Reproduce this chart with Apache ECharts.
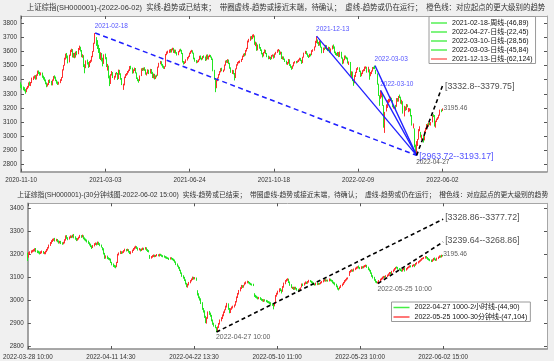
<!DOCTYPE html>
<html><head><meta charset="utf-8">
<script src="https://cdn.jsdelivr.net/npm/echarts@6/dist/echarts.min.js"></script>
<style>html,body{margin:0;padding:0;background:#f0f0f0}#c{width:554px;height:361px}</style>
</head><body><div id="c"></div>
<script>
// ---------- data ----------
const dailyTickIdx=[0,75,150,225,300,375];
const dailyTickLabels=['2020-11-10','2021-03-03','2021-06-24','2021-10-18','2022-02-09','2022-06-02'];
const m30TickIdx=[0,70,140,210,280,350];
const m30TickLabels=['2022-03-28 10:00','2022-04-11 14:30','2022-04-22 13:30','2022-05-10 11:00','2022-05-23 10:00','2022-06-02 15:00'];
const dailyYTicks=[2800,2900,3000,3100,3200,3300,3400,3500,3600,3700,3800];
const m30YTicks=[2800,2900,3000,3100,3200,3300,3400];
const dailyTitle='上证综指(SH000001)-(2022-06-02)  实线-趋势或已结束；  带圈虚线-趋势或接近末端，待确认；  虚线-趋势或仍在运行；  橙色线：对应起点的更大级别的趋势';
const m30Title='上证综指(SH000001)-(30分钟线图-2022-06-02 15:00)  实线-趋势或已结束；  带圈虚线-趋势或接近末端，待确认；  虚线-趋势或仍在运行；  橙色线：对应起点的更大级别的趋势';
// daily candles: [open, close, low, high]
const dailyOHLC=[
[3373,3360,3342,3382],[3358,3342,3330,3366],[3345,3338,3325,3352],[3340,3326,3318,3347],[3328,3316,3301,3333],[3318,3340,3312,3344],[3342,3347,3333,3356],[3349,3377,3344,3381],[3380,3363,3357,3388],[3362,3378,3355,3384],
[3381,3410,3376,3415],[3412,3414,3398,3424],[3418,3422,3408,3431],[3425,3408,3400,3433],[3406,3432,3402,3438],[3436,3457,3428,3465],[3460,3449,3441,3466],[3447,3442,3429,3456],[3440,3444,3431,3452],[3446,3420,3414,3451],
[3422,3410,3401,3429],[3412,3396,3389,3418],[3398,3375,3368,3402],[3376,3362,3347,3381],[3360,3367,3352,3374],[3369,3394,3363,3399],[3396,3386,3377,3403],[3388,3366,3360,3392],[3364,3397,3360,3402],[3399,3421,3393,3426],
[3424,3417,3408,3431],[3418,3396,3390,3422],[3394,3382,3372,3400],[3380,3374,3363,3388],[3372,3379,3365,3386],[3381,3397,3376,3404],[3399,3414,3392,3419],[3416,3473,3413,3474],[3474,3502,3466,3505],[3504,3552,3500,3556],
[3555,3576,3543,3585],[3578,3570,3552,3590],[3566,3531,3516,3572],[3530,3575,3523,3578],[3577,3608,3570,3612],[3610,3611,3596,3620],[3612,3566,3558,3617],[3564,3583,3556,3590],[3585,3563,3552,3591],[3561,3596,3557,3600],
[3598,3584,3574,3604],[3586,3621,3581,3625],[3623,3627,3610,3642],[3628,3610,3600,3634],[3606,3569,3560,3611],[3571,3573,3556,3581],[3570,3505,3490,3574],[3503,3481,3446,3510],[3486,3533,3482,3537],[3535,3517,3508,3543],
[3519,3496,3484,3525],[3498,3528,3490,3532],[3530,3532,3518,3541],[3534,3564,3528,3569],[3566,3600,3560,3604],[3603,3656,3598,3662],[3665,3696,3655,3731],[3690,3675,3640,3702],[3670,3642,3618,3681],[3640,3622,3590,3648],
[3618,3565,3548,3625],[3560,3586,3540,3595],[3583,3552,3530,3590],[3548,3509,3495,3556],[3515,3576,3512,3580],[3578,3563,3545,3585],[3555,3503,3490,3560],[3498,3501,3465,3512],[3495,3422,3410,3500],[3420,3362,3355,3430],
[3375,3437,3370,3440],[3440,3453,3430,3462],[3450,3420,3412,3455],[3418,3419,3400,3428],[3422,3445,3415,3449],[3447,3446,3437,3455],[3443,3404,3398,3448],[3408,3469,3405,3472],[3466,3443,3435,3470],[3440,3411,3400,3446],
[3408,3367,3362,3412],[3360,3362,3328,3372],[3366,3419,3360,3422],[3421,3435,3412,3440],[3437,3441,3428,3448],[3443,3457,3436,3462],[3459,3467,3450,3472],[3469,3492,3462,3497],[3494,3483,3474,3499],[3480,3450,3443,3486],
[3452,3469,3446,3474],[3471,3482,3462,3486],[3479,3451,3445,3483],[3448,3412,3405,3452],[3410,3398,3390,3416],[3396,3396,3379,3404],[3398,3426,3391,3430],[3430,3478,3426,3481],[3476,3473,3462,3484],[3474,3481,3465,3486],
[3483,3472,3463,3489],[3470,3441,3436,3474],[3440,3447,3430,3452],[3449,3469,3443,3474],[3467,3446,3440,3471],[3448,3474,3444,3477],[3472,3447,3441,3476],[3450,3418,3412,3456],[3416,3441,3410,3444],[3438,3410,3402,3442],
[3412,3427,3405,3431],[3430,3429,3417,3436],[3432,3490,3428,3493],[3492,3517,3486,3520],[3519,3528,3510,3533],[3526,3507,3500,3531],[3505,3497,3486,3512],[3494,3486,3478,3500],[3488,3492,3476,3496],[3495,3581,3492,3583],
[3583,3593,3574,3600],[3595,3597,3585,3606],[3599,3611,3590,3614],[3613,3600,3592,3618],[3598,3615,3593,3620],[3617,3624,3608,3627],[3622,3597,3590,3626],[3595,3611,3588,3614],[3609,3592,3585,3613],[3590,3581,3572,3596],
[3579,3599,3574,3603],[3601,3611,3595,3615],[3613,3610,3601,3620],[3608,3589,3582,3612],[3586,3528,3522,3590],[3525,3518,3508,3533],[3520,3525,3512,3530],[3527,3540,3519,3545],[3542,3557,3536,3561],[3559,3566,3550,3570],
[3568,3587,3562,3592],[3589,3600,3583,3605],[3602,3607,3594,3612],[3605,3591,3585,3609],[3589,3552,3545,3592],[3550,3534,3528,3556],[3532,3528,3517,3540],[3526,3530,3520,3536],[3532,3541,3525,3545],[3543,3566,3538,3570],
[3568,3552,3545,3572],[3550,3547,3538,3556],[3549,3565,3544,3568],[3567,3563,3555,3573],[3561,3539,3533,3565],[3541,3574,3537,3578],[3576,3550,3545,3580],[3548,3567,3543,3570],[3569,3573,3561,3578],[3571,3563,3557,3576],
[3560,3550,3540,3564],[3548,3467,3460,3550],[3465,3411,3400,3470],[3405,3362,3312,3410],[3355,3397,3340,3401],[3400,3412,3390,3416],[3414,3437,3409,3440],[3439,3457,3432,3461],[3459,3478,3452,3482],[3480,3466,3460,3485],
[3464,3467,3454,3472],[3469,3504,3465,3508],[3506,3532,3500,3536],[3534,3528,3520,3540],[3526,3540,3518,3546],[3538,3518,3511,3543],[3516,3485,3478,3520],[3483,3457,3449,3488],[3455,3465,3441,3470],[3463,3446,3438,3468],
[3444,3410,3395,3448],[3415,3477,3412,3480],[3480,3507,3474,3510],[3509,3522,3500,3526],[3524,3528,3515,3533],[3526,3531,3518,3537],[3533,3544,3526,3548],[3546,3567,3540,3571],[3569,3581,3561,3585],[3583,3575,3566,3589],
[3577,3607,3572,3611],[3609,3621,3600,3626],[3623,3675,3618,3678],[3677,3682,3665,3690],[3684,3703,3676,3708],[3701,3693,3685,3710],[3695,3715,3688,3720],[3712,3717,3700,3723],[3710,3656,3648,3714],[3654,3662,3638,3670],
[3660,3614,3605,3664],[3612,3646,3608,3650],[3648,3628,3620,3655],[3626,3613,3604,3632],[3610,3587,3580,3615],[3585,3568,3558,3590],[3570,3592,3565,3596],[3594,3611,3588,3615],[3609,3589,3582,3612],[3586,3568,3560,3590],
[3566,3552,3545,3571],[3554,3561,3547,3566],[3559,3548,3540,3563],[3550,3572,3546,3575],[3574,3575,3564,3580],[3573,3558,3550,3578],[3560,3584,3556,3587],[3586,3594,3578,3598],[3596,3609,3590,3613],[3611,3611,3600,3618],
[3608,3582,3576,3612],[3584,3597,3579,3600],[3595,3552,3547,3598],[3550,3562,3544,3566],[3560,3547,3540,3565],[3545,3533,3526,3550],[3531,3516,3508,3535],[3518,3518,3505,3526],[3520,3544,3514,3547],[3542,3505,3498,3545],
[3503,3492,3485,3510],[3490,3481,3470,3496],[3483,3498,3477,3502],[3500,3521,3495,3525],[3523,3528,3515,3532],[3526,3526,3516,3533],[3528,3532,3520,3537],[3534,3541,3526,3545],[3543,3552,3536,3556],[3550,3539,3532,3555],
[3537,3520,3512,3541],[3522,3560,3518,3563],[3562,3589,3557,3592],[3591,3600,3583,3605],[3598,3585,3578,3603],[3583,3571,3563,3587],[3569,3563,3554,3574],[3565,3580,3560,3584],[3578,3576,3566,3585],[3578,3607,3574,3610],
[3609,3611,3598,3616],[3613,3632,3606,3636],[3634,3673,3630,3676],[3680,3681,3660,3708],[3679,3662,3655,3686],[3660,3647,3640,3668],[3648,3675,3642,3678],[3673,3632,3628,3677],[3630,3593,3588,3634],[3595,3625,3590,3628],
[3623,3622,3610,3630],[3624,3643,3618,3647],[3641,3618,3612,3645],[3616,3615,3603,3622],[3617,3630,3610,3634],[3628,3597,3592,3632],[3599,3619,3595,3622],[3621,3640,3615,3643],[3642,3632,3620,3650],[3630,3595,3588,3636],
[3593,3586,3575,3600],[3584,3580,3570,3590],[3578,3593,3568,3597],[3591,3567,3560,3596],[3565,3597,3562,3600],[3595,3555,3550,3598],[3553,3521,3510,3558],[3523,3541,3515,3545],[3543,3569,3538,3572],[3567,3558,3550,3572],
[3556,3555,3544,3563],[3553,3522,3515,3557],[3520,3524,3505,3530],[3522,3433,3428,3526],[3430,3455,3420,3460],[3453,3394,3390,3458],[3392,3361,3357,3400],[3380,3430,3375,3433],[3432,3453,3420,3456],[3455,3479,3448,3482],
[3481,3485,3470,3490],[3483,3462,3455,3488],[3460,3429,3420,3465],[3431,3446,3425,3450],[3448,3465,3440,3468],[3467,3468,3458,3475],[3466,3490,3462,3493],[3488,3490,3478,3495],[3488,3457,3450,3492],[3459,3489,3452,3492],
[3470,3429,3400,3474],[3431,3451,3425,3455],[3453,3462,3440,3466],[3464,3488,3458,3490],[3486,3484,3475,3492],[3495,3481,3475,3500],[3468,3447,3440,3470],[3440,3372,3365,3445],[3368,3293,3285,3372],[3285,3256,3215,3290],
[3290,3296,3265,3325],[3295,3309,3275,3315],[3290,3223,3215,3300],[3215,3064,3060,3220],[3070,3170,3023,3172],[3180,3215,3175,3225],[3210,3251,3200,3255],[3252,3253,3235,3265],[3250,3259,3240,3265],[3255,3271,3250,3280],
[3265,3250,3244,3272],[3252,3212,3205,3256],[3200,3214,3195,3218],[3212,3203,3190,3222],[3210,3266,3208,3270],[3262,3252,3244,3270],[3250,3282,3245,3285],[3285,3283,3270,3295],[3278,3236,3230,3280],[3230,3252,3225,3258],
[3245,3167,3160,3248],[3160,3213,3140,3215],[3205,3186,3180,3210],[3190,3225,3185,3228],[3220,3211,3205,3225],[3190,3195,3170,3200],[3190,3194,3175,3198],[3190,3151,3140,3195],[3145,3080,3075,3150],[3070,3087,3055,3090],
[3050,2929,2920,3055],[2920,2886,2880,2940],[2870,2958,2863.65,2965],[2945,2975,2930,2980],[2980,3047,2975,3050],[3060,3068,3035,3070],[3025,3001,2990,3030],[2990,3004,2975,3010],[3000,2978,2955,3005],[2975,3035,2970,3038],
[3040,3054,3030,3060],[3050,3084,3045,3086],[3088,3073,3065,3090],[3075,3093,3068,3096],[3090,3085,3078,3095],[3080,3096,3075,3100],[3100,3146,3098,3148],[3150,3146,3135,3155],[3145,3070,3068,3150],[3070,3107,3060,3110],
[3105,3123,3100,3125],[3125,3130,3115,3135],[3128,3149,3125,3152],[3150,3186,3145,3188],[3184,3182,3170,3190],[3182,3195.46,3178,3197]
];
// 30-minute candles: [open, close, low, high]
const m30OHLC=[
[3205,3190,3172,3208],[3190,3207,3186,3210],[3206,3210,3201,3214],[3211,3214,3205,3218],[3213,3216,3209,3220],[3217,3218,3212,3223],[3217,3221,3213,3227],[3224,3215,3210,3228],[3214,3212,3206,3218],[3213,3210,3204,3216],
[3210,3206,3200,3213],[3205,3210,3202,3214],[3211,3212,3205,3217],[3212,3207,3203,3215],[3206,3207,3201,3211],[3205,3212,3201,3216],[3213,3220,3210,3224],[3220,3228,3217,3232],[3229,3240,3226,3243],[3240,3250,3237,3254],
[3251,3258,3246,3262],[3258,3264,3254,3268],[3265,3266,3259,3270],[3270,3262,3256,3272],[3262,3264,3257,3268],[3265,3258,3253,3267],[3258,3253,3247,3261],[3252,3256,3248,3259],[3256,3250,3245,3259],[3250,3248,3242,3253],
[3247,3252,3244,3255],[3250,3262,3248,3266],[3263,3279,3260,3283],[3279,3272,3268,3284],[3271,3268,3262,3275],[3268,3275,3265,3278],[3275,3279,3271,3283],[3279,3276,3271,3282],[3276,3282,3273,3286],[3285,3276,3270,3289],
[3276,3270,3264,3279],[3270,3264,3258,3272],[3264,3268,3260,3271],[3268,3273,3265,3277],[3273,3281,3271,3285],[3281,3277,3272,3284],[3277,3283,3274,3286],[3280,3271,3266,3283],[3271,3266,3261,3274],[3266,3262,3257,3269],
[3262,3257,3252,3265],[3257,3250,3246,3260],[3250,3244,3239,3253],[3244,3236,3232,3247],[3236,3228,3224,3239],[3232,3238,3228,3241],[3238,3245,3235,3249],[3245,3248,3241,3252],[3248,3244,3239,3251],[3244,3252,3242,3256],
[3252,3246,3241,3255],[3246,3240,3236,3249],[3240,3235,3230,3243],[3228,3225,3218,3232],[3225,3205,3200,3227],[3205,3186,3181,3207],[3186,3192,3182,3196],[3192,3185,3180,3195],[3185,3182,3177,3188],[3182,3179,3174,3185],
[3179,3167,3163,3182],[3165,3158,3153,3168],[3158,3152,3146,3161],[3152,3150,3143,3155],[3150,3147,3140,3153],[3147,3165,3145,3168],[3165,3200,3163,3203],[3200,3205,3196,3209],[3205,3213,3202,3216],[3210,3208,3202,3214],
[3208,3210,3204,3214],[3210,3216,3207,3219],[3216,3221,3213,3225],[3221,3218,3213,3224],[3218,3221,3215,3225],[3221,3212,3208,3223],[3212,3207,3202,3215],[3205,3210,3201,3214],[3210,3218,3207,3221],[3218,3224,3215,3228],
[3224,3230,3221,3234],[3230,3233,3226,3238],[3233,3228,3224,3236],[3228,3221,3217,3231],[3221,3225,3218,3228],[3222,3218,3213,3225],[3218,3222,3215,3226],[3222,3226,3219,3230],[3226,3224,3219,3229],[3224,3228,3221,3232],
[3228,3220,3216,3231],[3220,3216,3211,3223],[3216,3214,3209,3219],[3195,3186,3181,3198],[3186,3190,3182,3193],[3190,3193,3186,3197],[3193,3196,3189,3200],[3196,3192,3188,3199],[3192,3195,3189,3198],[3195,3198,3192,3202],
[3198,3196,3192,3201],[3194,3200,3191,3203],[3200,3198,3194,3203],[3198,3194,3190,3200],[3194,3193,3188,3197],[3193,3190,3186,3196],[3190,3188,3183,3193],[3188,3185,3181,3191],[3185,3184,3180,3188],[3183,3181,3176,3186],
[3181,3185,3178,3188],[3185,3182,3178,3188],[3182,3179,3175,3185],[3179,3176,3171,3182],[3176,3168,3164,3178],[3168,3158,3154,3170],[3158,3151,3147,3161],[3148,3143,3138,3152],[3143,3132,3128,3146],[3132,3120,3116,3134],
[3120,3107,3103,3122],[3107,3100,3095,3110],[3100,3090,3085,3103],[3090,3075,3070,3092],[3075,3064,3058,3077],[3062,3070,3056,3073],[3070,3078,3066,3081],[3078,3086,3075,3089],[3086,3092,3083,3096],[3092,3100,3089,3104],
[3100,3095,3091,3103],[3095,3098,3092,3102],[3098,3090,3086,3100],[3040,3029,3022,3045],[3029,3015,3010,3032],[3015,3007,3000,3018],[3007,2990,2985,3010],[2990,2965,2960,2993],[2965,2955,2948,2968],[2955,2930,2925,2958],
[2930,2907,2902,2934],[2905,2925,2900,2928],[2925,2950,2921,2953],[2950,2945,2938,2955],[2945,2935,2930,2948],[2935,2915,2910,2938],[2915,2900,2895,2918],[2900,2892,2887,2904],[2892,2886,2880,2895],[2880,2870,2863.65,2885],
[2870,2885,2866,2888],[2885,2900,2881,2903],[2900,2915,2896,2918],[2915,2925,2910,2928],[2925,2936,2920,2940],[2936,2950,2932,2953],[2950,2958,2946,2962],[2962,2975,2958,2978],[2975,2986,2970,2990],[2986,2965,2960,2988],
[2965,2950,2945,2968],[2950,2964,2946,2967],[2964,2970,2960,2974],[2970,2975,2966,2978],[2975,2979,2970,2983],[2982,2995,2978,2998],[2995,3015,2992,3018],[3015,3030,3011,3033],[3030,3043,3026,3046],[3043,3055,3040,3058],
[3055,3064,3050,3068],[3064,3060,3055,3067],[3060,3064,3056,3068],[3070,3075,3066,3079],[3075,3079,3071,3083],[3079,3082,3075,3086],[3082,3078,3074,3085],[3078,3074,3070,3081],[3074,3071,3067,3077],[3071,3070,3065,3074],
[3070,3068,3063,3073],[3028,3021,3016,3032],[3021,3018,3012,3025],[3018,3014,3009,3021],[3014,3010,3005,3017],[3010,3012,3006,3016],[3012,3007,3003,3015],[3007,3004,2999,3010],[3004,3001,2996,3007],[2998,3003,2994,3006],
[3003,3000,2996,3006],[3000,2998,2993,3003],[2998,2995,2990,3001],[2995,2993,2988,2998],[2993,2990,2985,2996],[2990,2985,2980,2993],[2985,2982,2977,2988],[2980,2979,2962,2984],[2979,2990,2975,2993],[2990,3021,2987,3024],
[3021,3030,3017,3034],[3030,3040,3026,3043],[3040,3050,3036,3053],[3050,3045,3041,3054],[3045,3035,3031,3048],[3042,3060,3038,3063],[3060,3075,3056,3078],[3075,3086,3071,3089],[3086,3090,3082,3094],[3090,3093,3086,3097],
[3093,3080,3076,3095],[3080,3068,3064,3083],[3068,3058,3054,3071],[3055,3057,3050,3060],[3057,3050,3046,3060],[3050,3057,3047,3060],[3057,3052,3048,3060],[3052,3048,3043,3055],[3048,3043,3038,3051],[3043,3050,3040,3053],
[3050,3054,3046,3057],[3060,3071,3057,3074],[3071,3068,3063,3074],[3068,3075,3065,3078],[3075,3079,3071,3083],[3079,3076,3072,3082],[3076,3082,3073,3085],[3082,3086,3078,3090],[3086,3084,3080,3089],[3082,3080,3075,3086],
[3080,3076,3072,3083],[3076,3071,3067,3079],[3071,3070,3065,3074],[3070,3075,3066,3078],[3075,3071,3067,3078],[3071,3074,3068,3077],[3074,3073,3069,3077],[3075,3078,3071,3081],[3078,3082,3075,3085],[3082,3086,3079,3089],
[3086,3090,3083,3094],[3090,3086,3082,3093],[3086,3088,3083,3091],[3088,3086,3082,3091],[3086,3093,3083,3096],[3092,3088,3084,3095],[3088,3086,3082,3091],[3086,3079,3075,3089],[3079,3076,3071,3082],[3076,3070,3066,3079],
[3070,3062,3058,3073],[3062,3052,3048,3065],[3052,3050,3044,3055],[3053,3058,3049,3061],[3058,3065,3055,3068],[3065,3071,3062,3074],[3071,3078,3068,3081],[3078,3086,3075,3089],[3086,3090,3082,3093],[3090,3096,3087,3099],
[3096,3098,3092,3101],[3110,3125,3107,3128],[3125,3129,3121,3133],[3129,3132,3125,3136],[3132,3129,3125,3135],[3129,3136,3126,3139],[3136,3140,3132,3143],[3140,3143,3136,3147],[3143,3146,3139,3149],[3148,3143,3139,3152],
[3143,3140,3136,3146],[3140,3146,3137,3149],[3146,3143,3139,3149],[3143,3148,3140,3151],[3148,3150,3144,3154],[3150,3152,3146,3156],[3152,3146,3142,3155],[3144,3136,3132,3147],[3136,3130,3126,3139],[3130,3120,3116,3133],
[3120,3107,3103,3122],[3107,3100,3096,3110],[3100,3090,3086,3103],[3090,3082,3078,3093],[3082,3079,3075,3085],[3076,3078,3074,3082],[3078,3086,3075,3089],[3086,3092,3083,3095],[3092,3096,3088,3099],[3096,3100,3092,3104],
[3100,3104,3096,3107],[3104,3102,3098,3107],[3102,3107,3099,3110],[3106,3110,3102,3113],[3110,3115,3106,3118],[3115,3121,3112,3124],[3121,3118,3114,3124],[3118,3126,3115,3129],[3126,3132,3123,3135],[3132,3138,3129,3141],
[3138,3143,3135,3146],[3145,3143,3139,3148],[3143,3138,3134,3146],[3138,3136,3132,3141],[3136,3132,3128,3139],[3132,3129,3125,3135],[3129,3135,3126,3138],[3135,3140,3132,3143],[3140,3130,3126,3142],[3133,3138,3130,3141],
[3138,3143,3135,3146],[3143,3146,3140,3149],[3146,3150,3143,3153],[3150,3148,3144,3153],[3148,3152,3145,3155],[3152,3155,3149,3158],[3155,3149,3145,3158],[3155,3160,3151,3163],[3160,3164,3157,3167],[3164,3168,3161,3171],
[3168,3172,3165,3175],[3172,3176,3169,3179],[3176,3181,3173,3184],[3181,3183,3178,3186],[3183,3186,3180,3189],[3186,3190,3182,3193],[3190,3186,3182,3193],[3186,3181,3177,3189],[3181,3178,3174,3184],[3178,3175,3171,3181],
[3175,3171,3167,3178],[3171,3176,3168,3179],[3176,3182,3173,3185],[3184,3179,3175,3187],[3179,3176,3172,3182],[3176,3183,3173,3186],[3183,3188,3180,3191],[3188,3193,3185,3196],[3193,3190,3186,3196],[3190,3196,3187,3199],
[3196,3195.46,3191,3198]
];
const dailyLegendNames=['2021-02-18-周线-(46,89)','2022-04-27-日线-(22,45)','2022-03-10-日线-(28,56)','2022-03-03-日线-(45,84)','2021-12-13-日线-(62,124)'];
const m30LegendNames=['2022-04-27 1000-2小时线-(44,90)','2022-05-25 1000-30分钟线-(47,104)'];
// trend lines [[startIndex,startValue],[endIndex,endValue]]
const dailyTrendDashedBlue=[[66,3731.69],[352,2863.65]];
const dailyTrendSolid=[[[263,3708.94],[352,2863.65]],[[315,3500],[352,2863.65]],[[320,3325],[352,2863.65]]];
const dailyTrendUp=[[352,2863.65],[375,3356.28]];
const m30TrendUp=[[[159,2863.65],[350,3353.29]],[[295,3074],[350,3254.25]]];
// annotations [text, index, value]
const dailyNotesBlue=[['2021-02-18',66,3731.69],['2021-12-13',263,3708.94],['2022-03-03',315,3500],['2022-03-10',320,3325]];
const dailyRange=['[2963.72--3193.17]',352,2863.65];
const dailyLowDate=['2022-04-27',352,2863.65];
const dailyTarget=['[3332.8--3379.75]',375,3356.28];
const dailyLast=['3195.46',375,3195.46];
const m30Dates=[['2022-04-27 10:00',159,2863.65],['2022-05-25 10:00',295,3074]];
const m30Targets=[['[3328.86--3377.72]',350,3353.29],['[3239.64--3268.86]',350,3254.25]];
const m30Last=['3195.46',350,3195.46];

// ---------- rendering ----------
const FONT='"Liberation Sans", Arial, "Noto Sans CJK SC", sans-serif';
const UP='#ff2f2f', DOWN='#22e622';
const chart=echarts.init(document.getElementById('c'),null,{renderer:'canvas'});

function xPair(grid,max,ticks,labels){
  return [
    {gridIndex:grid,type:'value',min:0,max:max,position:'bottom',
     axisLine:{show:true,onZero:false,lineStyle:{color:'#8c8c8c',width:1.6}},
     axisTick:{show:true,inside:true,length:3,customValues:ticks,lineStyle:{color:'#555'}},
     axisLabel:{show:true,customValues:ticks,margin:5,fontSize:6.3,color:'#333',fontFamily:FONT,
       formatter:v=>{const k=ticks.indexOf(v);return k>=0?labels[k]:'';}},
     splitLine:{show:false}},
    {gridIndex:grid,type:'value',min:0,max:max,position:'top',
     axisLine:{show:true,onZero:false,lineStyle:{color:'#a6a6a6',width:1}},
     axisTick:{show:true,inside:true,length:3,customValues:ticks,lineStyle:{color:'#555'}},
     axisLabel:{show:false},splitLine:{show:false}}
  ];
}
function yPair(grid,min,max,ticks){
  return [
    {gridIndex:grid,type:'value',min:min,max:max,position:'left',
     axisLine:{show:true,onZero:false,lineStyle:{color:'#8c8c8c',width:1.6}},
     axisTick:{show:true,inside:true,length:3,customValues:ticks,lineStyle:{color:'#555'}},
     axisLabel:{show:true,customValues:ticks,margin:4,fontSize:6.3,color:'#333',fontFamily:FONT,formatter:v=>String(v)},
     splitLine:{show:false}},
    {gridIndex:grid,type:'value',min:min,max:max,position:'right',
     axisLine:{show:true,onZero:false,lineStyle:{color:'#a6a6a6',width:1}},
     axisTick:{show:true,inside:true,length:3,customValues:ticks,lineStyle:{color:'#555'}},
     axisLabel:{show:false},splitLine:{show:false}}
  ];
}
function candles(data,xi,yi){
  return {type:'candlestick',xAxisIndex:xi,yAxisIndex:yi,silent:true,
    data:data.map((r,i)=>[i,r[0],r[1],r[2],r[3]]),
    itemStyle:{color:UP,color0:DOWN,borderColor:UP,borderColor0:DOWN,borderWidth:1}};
}
function seg(pts,xi,yi,color,width,type){
  return {type:'line',xAxisIndex:xi,yAxisIndex:yi,data:pts,showSymbol:false,symbol:'none',silent:true,z:5,
    lineStyle:{color:color,width:width,type:type}};
}
function notes(items,xi,yi,color,size,dx,dy){
  return {type:'scatter',xAxisIndex:xi,yAxisIndex:yi,symbolSize:1,silent:true,z:6,
    itemStyle:{color:'rgba(0,0,0,0)'},
    data:items.map(n=>({value:[n[1],n[2]],label:{show:true,position:[dx,dy],align:'left',verticalAlign:'middle',
      color:color,fontSize:size,fontFamily:FONT,formatter:n[0]}}))};
}
function legendSeries(names,colors,xi,yi){
  return names.map((n,k)=>({type:'line',name:n,xAxisIndex:xi,yAxisIndex:yi,data:[],color:colors[k],
    itemStyle:{color:colors[k]},lineStyle:{color:colors[k]}}));
}
const BLUE='#1f1fff';
const option={
  animation:false,backgroundColor:'#f0f0f0',
  grid:[
    {left:20,top:16,width:527,height:155.7,show:true,backgroundColor:'#fff',borderWidth:0},
    {left:20,top:203.3,width:527,height:145.7,show:true,backgroundColor:'#fff',borderWidth:0}
  ],
  xAxis:[...xPair(0,468,dailyTickIdx,dailyTickLabels),...xPair(1,437.5,m30TickIdx,m30TickLabels)],
  yAxis:[...yPair(0,2748,3852,dailyYTicks),...yPair(1,2790,3422,m30YTicks)],
  graphic:[
    {type:'text',x:286,y:8,style:{text:dailyTitle,align:'center',verticalAlign:'middle',fontSize:7.45,fontFamily:FONT,fill:'#333'}},
    {type:'text',x:282.7,y:195,style:{text:m30Title,align:'center',verticalAlign:'middle',fontSize:6.82,fontFamily:FONT,fill:'#333'}}
  ],
  legend:[
    {data:dailyLegendNames,orient:'vertical',left:429,top:16.5,itemWidth:16,itemHeight:1.5,itemGap:0,icon:'rect',
     padding:[2,3,0,2],borderColor:'#9a9a9a',borderWidth:1,backgroundColor:'#fff',selectedMode:false,
     textStyle:{fontSize:7,lineHeight:9,color:'#111',fontFamily:FONT}},
    {data:m30LegendNames,orient:'vertical',left:391.5,top:302,itemWidth:16,itemHeight:1.5,itemGap:0.5,icon:'rect',
     padding:[1,3,0,2],borderColor:'#9a9a9a',borderWidth:1,backgroundColor:'#fff',selectedMode:false,
     textStyle:{fontSize:7,lineHeight:9,color:'#111',fontFamily:FONT}}
  ],
  series:[
    candles(dailyOHLC,0,0),
    candles(m30OHLC,2,2),
    ...legendSeries(dailyLegendNames,['#55f055','#55f055','#55f055','#55f055','#ff6a6a'],0,0),
    ...legendSeries(m30LegendNames,['#44ee44','#ff4a4a'],2,2),
    seg(dailyTrendDashedBlue,0,0,BLUE,1.5,[5,3.5]),
    ...dailyTrendSolid.map(p=>seg(p,0,0,BLUE,1.3,'solid')),
    seg(dailyTrendUp,0,0,'#000',1.6,[4,3]),
    ...m30TrendUp.map(p=>seg(p,2,2,'#000',1.6,[4,3])),
    notes(dailyNotesBlue,0,0,BLUE,6.5,0,-6),
    notes([dailyRange],0,0,BLUE,8.8,3,2),
    notes([dailyLowDate],0,0,'#222',6.5,0,7.5),
    notes([dailyTarget],0,0,'#222',8.8,3,1),
    notes([dailyLast],0,0,'#333',6.6,1.5,0),
    notes(m30Dates,2,2,'#333',6.9,0,6),
    notes(m30Targets,2,2,'#222',8.8,2.5,-1),
    notes([m30Last],2,2,'#333',6.6,0.5,-1)
  ]
};
chart.setOption(option);
</script></body></html>
